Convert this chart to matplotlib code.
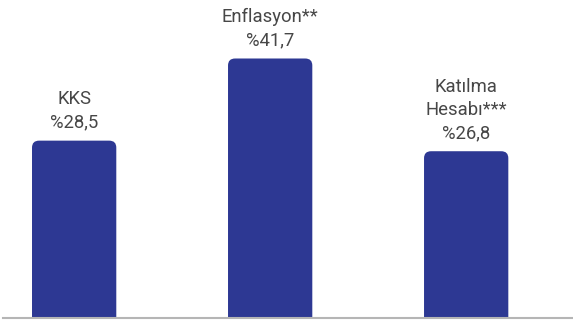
import matplotlib.pyplot as plt
from matplotlib.patches import FancyBboxPatch

labels = ["KKS", "Enflasyon**", "Katılma\nHesabı***"]
values = [28.5, 41.7, 26.8]
value_text = ["%28,5", "%41,7", "%26,8"]

BAR = "#2d3893"
INK = "#474747"

fig = plt.figure(figsize=(5.73, 3.22), dpi=100)
ax = fig.add_axes([3 / 573, 4 / 322, 570 / 573, 318 / 322])

x = list(range(len(values)))
width = 0.43
bars = ax.bar(x, values, width=width, color=BAR)

# swap plain bars for ones with rounded tops (bottom corners hidden below axis)
for b in bars:
    b.set_visible(False)
    patch = FancyBboxPatch((b.get_x(), -3), b.get_width(), b.get_height() + 3,
                           boxstyle="round,pad=0,rounding_size=0.036",
                           mutation_aspect=31, facecolor=BAR, edgecolor="none",
                           zorder=2)
    ax.add_patch(patch)

for xi, v, lab, vt in zip(x, values, labels, value_text):
    ax.annotate(f"{lab}\n{vt}", xy=(xi, v), xytext=(0, 6.5), textcoords="offset points",
                ha="center", va="bottom", fontsize=13.3, color=INK,
                family="Roboto", linespacing=1.38)

ax.axhline(0, color="#b5b5b5", lw=1.5, zorder=3, clip_on=False)
ax.set_xlim(-0.363, 2.545)
ax.set_ylim(0, 51.1)
ax.axis("off")

fig.savefig("out.png", dpi=100, facecolor="white")
